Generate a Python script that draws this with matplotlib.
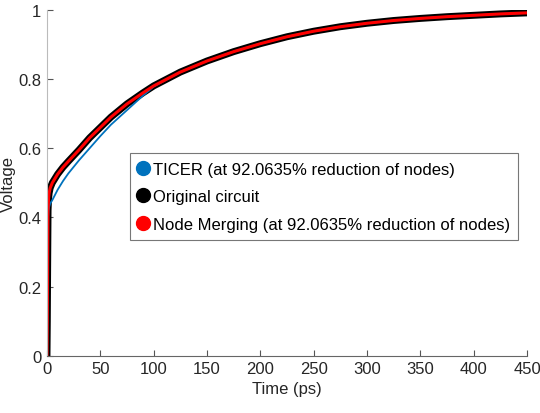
import numpy as np
import matplotlib
matplotlib.use("Agg")
import matplotlib.pyplot as plt
from matplotlib.lines import Line2D

plt.rcParams['font.family'] = ['Liberation Sans', 'DejaVu Sans']

# readings from the reference (time in ps, voltage in V)
time_ps = [0, 0.3, 0.6, 1, 1.5, 2, 3, 5, 10, 15, 20, 30, 40, 50, 60, 75, 90,
           100, 125, 150, 175, 200, 225, 250, 275, 300, 325, 350, 375, 400, 425, 450]
v_orig = [0, 0.1, 0.25, 0.42, 0.455, 0.47, 0.485, 0.5, 0.525, 0.545, 0.562, 0.595,
          0.63, 0.66, 0.69, 0.728, 0.76, 0.78, 0.82, 0.852, 0.879, 0.902,
          0.922, 0.938, 0.951, 0.961, 0.969, 0.975, 0.98, 0.984, 0.988, 0.991]
v_merge = v_orig
v_ticer = [0, 0.1, 0.25, 0.40, 0.42, 0.43, 0.44, 0.45, 0.48, 0.505, 0.527, 0.565,
           0.6, 0.635, 0.668, 0.71, 0.752, 0.778, 0.82, 0.852, 0.879, 0.902,
           0.922, 0.938, 0.951, 0.961, 0.969, 0.975, 0.98, 0.984, 0.988, 0.991]

labels = ['TICER (at 92.0635% reduction of nodes)',
          'Original circuit',
          'Node Merging (at 92.0635% reduction of nodes)']
colors = ['#0072BD', 'black', '#FF0000']
txt = '#262626'

fig = plt.figure(figsize=(5.4, 4.14), dpi=100)
ax = fig.add_axes([0.087, 0.138, 0.889, 0.836])

ax.plot(time_ps, v_orig, color='black', linewidth=5, solid_capstyle='round')
ax.plot(time_ps, v_ticer, color=colors[0], linewidth=1.3)
ax.plot(time_ps, v_merge, color=colors[2], linewidth=2.2)

ax.set_xlim(0, 450)
ax.set_ylim(0, 1)
ax.set_xticks(np.arange(0, 451, 50))
ax.set_yticks([0, 0.2, 0.4, 0.6, 0.8, 1])
ax.set_yticklabels(['0', '0.2', '0.4', '0.6', '0.8', '1'])
ax.set_xlabel('Time (ps)', fontsize=12, labelpad=3, color=txt)
ax.set_ylabel('Voltage', fontsize=12, labelpad=2, color=txt)
ax.tick_params(labelsize=12, direction='in', length=4, color='#555555',
               labelcolor=txt, pad=4)
ax.spines['top'].set_visible(False)
ax.spines['right'].set_visible(False)
ax.spines['left'].set_color('#bbbbbb')
ax.spines['bottom'].set_color('#666666')

handles = [Line2D([], [], linestyle='none', marker='o', markersize=10,
                  markerfacecolor=c, markeredgecolor=c) for c in colors]
leg = ax.legend(handles, labels, loc='upper left', bbox_to_anchor=(0.172, 0.585),
                fontsize=12, handlelength=0.6, handletextpad=0.3,
                borderpad=0.5, labelspacing=0.75, fancybox=False,
                edgecolor='#777777', framealpha=1, borderaxespad=0)
leg.get_frame().set_linewidth(0.8)
for t in leg.get_texts():
    t.set_color('black')

fig.savefig('out.png', dpi=100)
